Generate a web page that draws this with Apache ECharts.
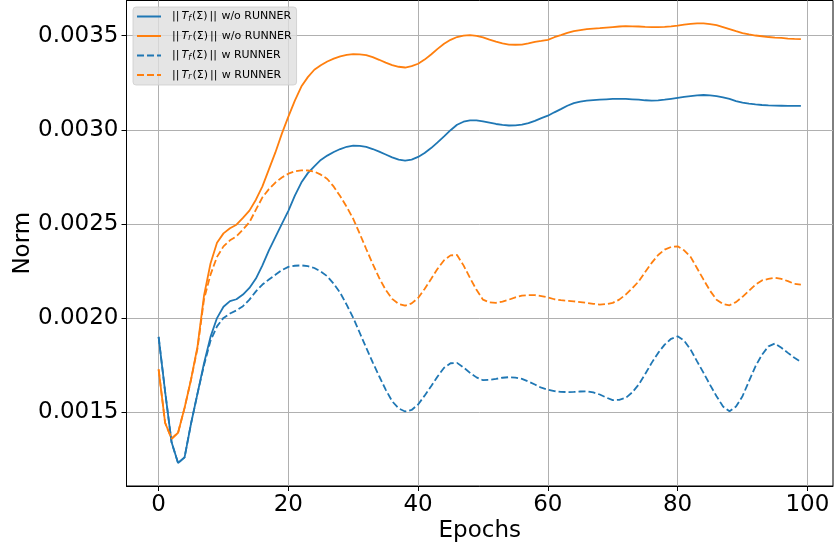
<!DOCTYPE html>
<html>
<head>
<meta charset="utf-8">
<script src="https://cdn.jsdelivr.net/npm/echarts@6/dist/echarts.min.js"></script>
<style>
html,body{margin:0;padding:0;background:#fff;}
#chart{width:834px;height:548px;}
</style>
</head>
<body>
<div id="chart"></div>
<script>
// Epochs 0..99
const epochs = Array.from({length: 100}, (_, i) => i);

// Values in units of 1e-4
const tfWithout = [
 19.0,16.1,13.4,12.3,12.6,14.4,16.0,17.6,19.0,20.0,
 20.6,20.9,21.0,21.25,21.6,22.1,22.8,23.6,24.3,25.0,
 25.7,26.5,27.2,27.7,28.06,28.4,28.63,28.82,28.98,29.1,
 29.16,29.15,29.09,28.98,28.84,28.69,28.54,28.42,28.36,28.42,
 28.56,28.77,29.03,29.33,29.65,29.98,30.27,30.43,30.5,30.5,
 30.45,30.38,30.31,30.26,30.23,30.24,30.28,30.36,30.48,30.62,
 30.75,30.93,31.1,31.28,31.42,31.5,31.55,31.58,31.6,31.62,
 31.64,31.64,31.64,31.62,31.6,31.57,31.55,31.56,31.6,31.65,
 31.7,31.75,31.79,31.83,31.85,31.83,31.79,31.72,31.64,31.53,
 31.44,31.39,31.35,31.32,31.3,31.29,31.28,31.27,31.27,31.27
];
const trWithout = [
 17.27,14.44,13.59,13.91,15.23,16.74,18.5,21.2,22.9,24.0,
 24.5,24.77,24.96,25.32,25.71,26.29,27.0,27.9,28.8,29.8,
 30.7,31.55,32.3,32.8,33.19,33.43,33.63,33.78,33.9,33.98,
 34.02,34.01,33.97,33.86,33.72,33.57,33.44,33.35,33.31,33.38,
 33.51,33.73,34.0,34.3,34.57,34.78,34.93,35.0,35.03,34.99,
 34.91,34.79,34.68,34.59,34.53,34.52,34.53,34.59,34.67,34.72,
 34.78,34.92,35.03,35.15,35.24,35.3,35.35,35.38,35.4,35.43,
 35.46,35.49,35.51,35.5,35.49,35.47,35.46,35.46,35.47,35.5,
 35.54,35.59,35.63,35.65,35.65,35.62,35.56,35.46,35.35,35.24,
 35.14,35.07,35.01,34.97,34.93,34.9,34.88,34.85,34.83,34.82
];
const tfWith = [
 19.0,16.1,13.4,12.3,12.6,14.4,16.0,17.5,18.8,19.56,
 20.01,20.24,20.41,20.63,20.98,21.42,21.78,22.05,22.3,22.55,
 22.72,22.78,22.8,22.76,22.66,22.47,22.22,21.82,21.34,20.7,
 20.01,19.22,18.42,17.65,16.91,16.2,15.58,15.2,15.04,15.12,
 15.41,15.88,16.38,16.9,17.36,17.6,17.62,17.38,17.09,16.85,
 16.7,16.72,16.77,16.83,16.86,16.84,16.77,16.63,16.47,16.3,
 16.2,16.12,16.08,16.07,16.08,16.1,16.11,16.05,15.94,15.78,
 15.64,15.66,15.76,16.05,16.47,17.03,17.62,18.15,18.59,18.9,
 19.03,18.8,18.33,17.7,17.09,16.45,15.85,15.3,15.05,15.3,
 15.85,16.65,17.44,18.05,18.5,18.65,18.42,18.15,17.89,17.68
];
const trWith = [
 17.27,14.44,13.59,13.91,15.23,16.74,18.4,21.0,22.31,23.25,
 23.81,24.13,24.34,24.7,25.09,25.76,26.41,26.85,27.2,27.47,
 27.67,27.8,27.85,27.84,27.78,27.62,27.39,26.98,26.47,25.9,
 25.27,24.48,23.67,22.88,22.13,21.5,21.02,20.75,20.66,20.78,
 21.07,21.55,22.08,22.62,23.07,23.33,23.35,22.8,22.13,21.5,
 20.98,20.83,20.81,20.88,20.98,21.1,21.19,21.22,21.22,21.17,
 21.1,21.0,20.95,20.92,20.89,20.85,20.81,20.76,20.72,20.74,
 20.81,20.98,21.25,21.58,21.95,22.45,22.93,23.35,23.64,23.78,
 23.81,23.6,23.25,22.65,22.04,21.45,20.98,20.75,20.68,20.85,
 21.13,21.45,21.78,22.0,22.08,22.14,22.08,21.96,21.82,21.78
];
const valueScale = 1e-4;

const xTicks = [0, 20, 40, 60, 80, 100];
const yTicks = [0.0015, 0.0020, 0.0025, 0.0030, 0.0035];

const seriesNames = ['Tf w/o', 'Tr w/o', 'Tf w', 'Tr w'];
const legendLabels = {
  'Tf w/o': '{b|||}{i|T}{s|f}{n|(Σ)}{b|||}{t| w/o RUNNER}',
  'Tr w/o': '{b|||}{i|T}{s|r}{n|(Σ)}{b|||}{t| w/o RUNNER}',
  'Tf w':   '{b|||}{i|T}{s|f}{n|(Σ)}{b|||}{t| w RUNNER}',
  'Tr w':   '{b|||}{i|T}{s|r}{n|(Σ)}{b|||}{t| w RUNNER}'
};
const seriesValues = [tfWithout, trWithout, tfWith, trWith];
const seriesColors = ['#1f77b4', '#ff7f0e', '#1f77b4', '#ff7f0e'];
const seriesDashed = [false, false, true, true];

const FONT = 'DejaVu Sans';
const chart = echarts.init(document.getElementById('chart'), null, {renderer: 'canvas'});

const series = seriesNames.map((name, k) => ({
  name,
  type: 'line',
  symbol: 'none',
  showSymbol: false,
  smooth: false,
  animation: false,
  data: epochs.map((e, i) => [e, seriesValues[k][i] * valueScale]),
  lineStyle: {
    color: seriesColors[k],
    width: 1.8,
    type: seriesDashed[k] ? [7, 3] : 'solid'
  },
  itemStyle: {color: seriesColors[k]},
  z: 2 + k
}));

chart.setOption({
  animation: false,
  backgroundColor: '#fff',
  grid: {
    left: 126.5, right: 1, top: 0.5, bottom: 62,
    show: true, borderColor: '#000', borderWidth: 1, backgroundColor: 'transparent',
    containLabel: false, outerBoundsMode: 'none'
  },
  legend: {
    orient: 'vertical',
    left: 133, top: 7,
    padding: [4, 5, 4, 3],
    itemWidth: 24, itemHeight: 12, itemGap: 8,
    itemStyle: {opacity: 0, borderWidth: 0},
    backgroundColor: 'rgba(222,222,222,0.8)',
    borderColor: 'rgba(205,205,205,0.8)', borderWidth: 1, borderRadius: 3,
    data: seriesNames,
    formatter: name => legendLabels[name],
    textStyle: {
      fontFamily: FONT, fontSize: 11, color: '#000', padding: [0, 0, 0, 5],
      rich: {
        t: {fontFamily: FONT, fontSize: 11, color: '#000'},
        b: {fontFamily: FONT, fontSize: 11, color: '#000', padding: [0, 1, 0, 1]},
        n: {fontFamily: FONT, fontSize: 11, color: '#000', padding: [0, 1, 0, 0]},
        i: {fontFamily: FONT, fontSize: 11, fontStyle: 'italic', color: '#000', padding: [0, 0, 0, 1]},
        s: {fontFamily: FONT, fontSize: 8, fontStyle: 'italic', color: '#000', verticalAlign: 'bottom', padding: [4, 1, 0, 0]}
      }
    }
  },
  xAxis: {
    type: 'value',
    min: -4.95, max: 103.95,
    name: 'Epochs', nameLocation: 'middle', nameGap: 34, nameMoveOverlap: false,
    nameTextStyle: {fontFamily: FONT, fontSize: 23, color: '#000'},
    axisLine: {show: true, onZero: false, lineStyle: {color: '#000', width: 1}},
    axisTick: {show: true, length: 5, customValues: xTicks, lineStyle: {color: '#000', width: 1}},
    axisLabel: {customValues: xTicks, fontFamily: FONT, fontSize: 23, color: '#000', margin: 8,
      formatter: v => String(v)},
    splitLine: {show: true, lineStyle: {color: '#b0b0b0', width: 1}}
  },
  yAxis: {
    type: 'value',
    min: 0.001108, max: 0.003687,
    name: 'Norm', nameLocation: 'middle', nameGap: 92, nameRotate: 90, nameMoveOverlap: false,
    nameTextStyle: {fontFamily: FONT, fontSize: 23, color: '#000'},
    axisLine: {show: true, onZero: false, lineStyle: {color: '#000', width: 1}},
    axisTick: {show: true, length: 5, customValues: yTicks, lineStyle: {color: '#000', width: 1}},
    axisLabel: {customValues: yTicks, fontFamily: FONT, fontSize: 23, color: '#000', margin: 8,
      formatter: v => v.toFixed(4)},
    splitLine: {show: true, lineStyle: {color: '#b0b0b0', width: 1}}
  },
  series
});
</script>
</body>
</html>
